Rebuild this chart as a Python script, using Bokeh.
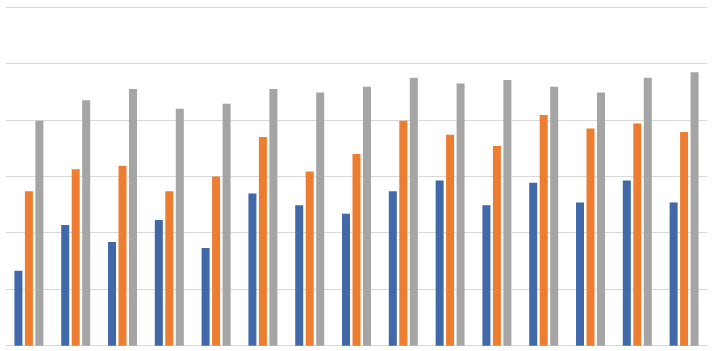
from bokeh.plotting import figure
from bokeh.models import ColumnDataSource, FactorRange, Range1d, FixedTicker
from bokeh.transform import dodge
from bokeh.embed import file_html
from bokeh.resources import INLINE

categories = [str(i) for i in range(1, 16)]
series_1 = [13.3, 21.4, 18.4, 22.3, 17.3, 27.0, 24.9, 23.4, 27.4, 29.3, 24.9, 28.9, 25.4, 29.3, 25.4]
series_2 = [27.4, 31.3, 31.9, 27.4, 30.0, 37.0, 30.9, 34.0, 39.9, 37.4, 35.4, 40.9, 38.5, 39.4, 37.9]
series_3 = [39.9, 43.5, 45.5, 42.0, 42.9, 45.5, 44.9, 45.9, 47.5, 46.5, 47.1, 45.9, 44.9, 47.5, 48.5]
y_ticks = [0, 10, 20, 30, 40, 50, 60]

source = ColumnDataSource(dict(cat=categories, s1=series_1, s2=series_2, s3=series_3))

p = figure(width=712, height=351, output_backend="svg", toolbar_location=None,
           x_range=FactorRange(*categories, range_padding=0),
           y_range=Range1d(-0.5, 60.5),
           min_border_left=5, min_border_right=5, min_border_top=4, min_border_bottom=3)

w = 0.171
off = 0.224
p.vbar(x=dodge("cat", -off, range=p.x_range), top="s1", width=w, source=source,
       fill_color="#4169A9", line_color=None)
p.vbar(x=dodge("cat", 0.0, range=p.x_range), top="s2", width=w, source=source,
       fill_color="#ED7D31", line_color=None)
p.vbar(x=dodge("cat", off, range=p.x_range), top="s3", width=w, source=source,
       fill_color="#A5A5A5", line_color=None)

p.xaxis.visible = False
p.yaxis.visible = False
p.xgrid.grid_line_color = None
p.yaxis.ticker = FixedTicker(ticks=y_ticks)
p.ygrid.ticker = FixedTicker(ticks=y_ticks)
p.ygrid.grid_line_color = "#D9D9D9"
p.ygrid.grid_line_width = 1.2
p.ygrid.level = "underlay"
p.outline_line_color = None
p.background_fill_color = "white"
p.border_fill_color = "white"

open("out.html", "w").write(file_html(p, INLINE))
